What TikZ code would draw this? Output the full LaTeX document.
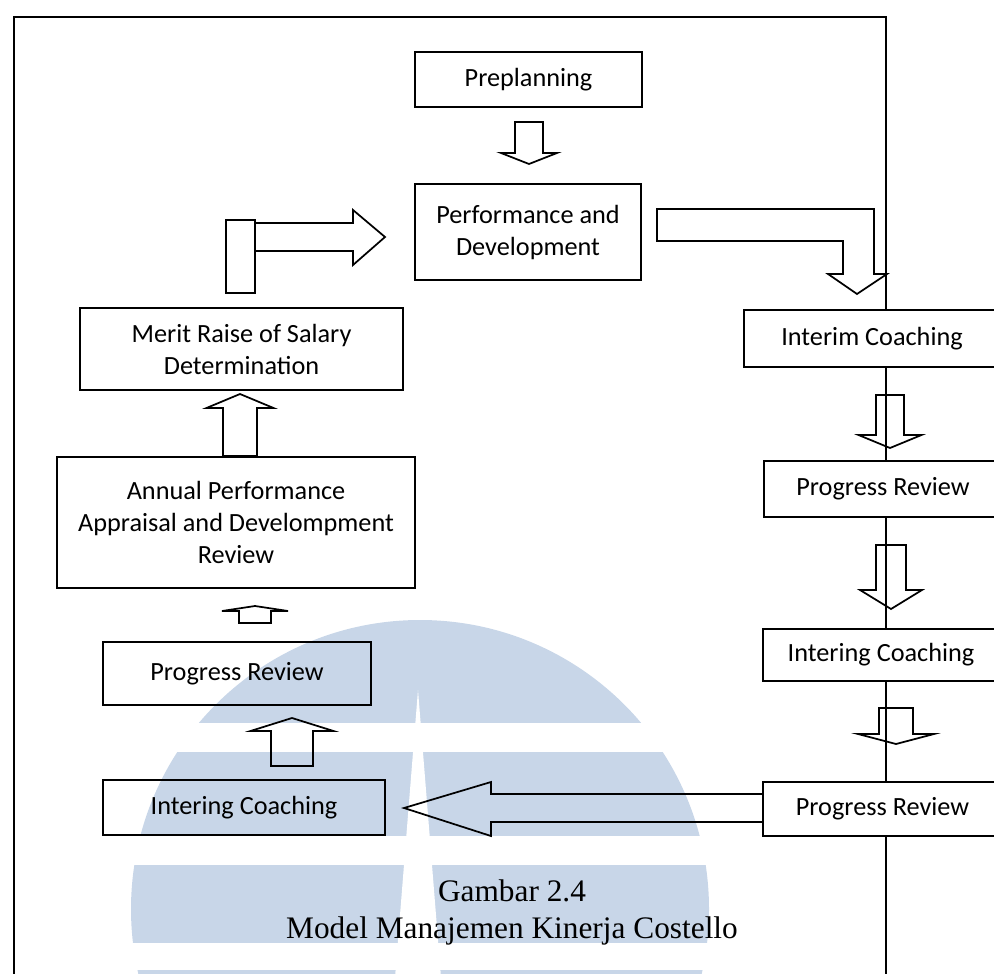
\documentclass[tikz,border=0pt]{standalone}
\usepackage{fontspec}
\setmainfont{Carlito}
\newfontfamily\capfont{Liberation Serif}
\usetikzlibrary{calc}
\definecolor{wmblue}{RGB}{200,214,232}

% vertical block arrow: #1 base centre, #2 shaft half width, #3 shaft length,
% #4 head half width, #5 head length, #6 direction (1 = down, -1 = up)
\newcommand\vfat[6]{%
  \draw[fat] ($(#1)+({-(#2)},0)$) -- ++(0,{(#6)*(#3)}) -- ++({(#2)-(#4)},0)
    -- ++(#4,{(#6)*(#5)}) -- ++(#4,{-1*(#6)*(#5)}) -- ++({(#2)-(#4)},0)
    -- ++(0,{-1*(#6)*(#3)}) -- cycle;}

\begin{document}
\begin{tikzpicture}[x=0.75pt,y=-0.75pt,
  box/.style={draw, line width=1.5pt, inner sep=0pt, align=center,
    font=\fontsize{19.7}{24}\selectfont},
  whitebox/.style={box, fill=white},
  fat/.style={draw, line width=1.3pt, line join=miter},
  frame/.style={line width=1.1pt}]
\useasboundingbox (0,0) rectangle (994,973);
\clip (0,0) rectangle (994,973);

% watermark logo
\begin{scope}
  \clip (420,909) circle (289);
  \fill[wmblue] (100,600) rectangle (750,723);
  \fill[wmblue] (100,752) rectangle (750,836);
  \fill[wmblue] (100,865) rectangle (750,943);
  \fill[wmblue] (100,970) rectangle (750,990);
  \fill[white] (418,690) -- (442,990) -- (394,990) -- cycle;
\end{scope}

% outer frame
\draw[frame] (14,990) -- (14,17) -- (886,17) -- (886,990);

% boxes
\node[box, minimum width=170.25pt, minimum height=41.25pt] (pre) at (528.5,79.5) {Preplanning};
\node[box, minimum width=169.5pt, minimum height=72pt] (perf) at (528,232) {Performance and\\Development};
\node[box, minimum width=242.25pt, minimum height=61.5pt] (merit) at (241.5,349) {Merit Raise of Salary\\Determination};
\node[box, minimum width=268.5pt, minimum height=98.25pt] (annual) at (236,522.5) {Annual Performance\\Appraisal and Develompment\\Review};
\node[box, minimum width=201pt, minimum height=47.25pt] (progL) at (237,673.5) {Progress Review};
\node[box, minimum width=211.5pt, minimum height=41.25pt] (interL) at (244,807.5) {Intering Coaching};
\node[whitebox, minimum width=192pt, minimum height=42.75pt] (interim) at (872,338.5) {Interim Coaching};
\node[whitebox, minimum width=178.5pt, minimum height=42pt] (progR1) at (883,489) {Progress Review};
\node[whitebox, minimum width=177pt, minimum height=39pt] (interR) at (881,655) {Intering Coaching};
\node[whitebox, minimum width=179.25pt, minimum height=40.5pt] (progR2) at (882.5,809) {Progress Review};

% block arrows between the boxes
\coordinate (a1) at ($(pre.south)+(0.5,14)$);
\vfat{a1}{14}{31}{28}{11}{1}
\coordinate (a2) at ($(annual.north)+(4,0)$);
\vfat{a2}{17}{48}{33.5}{14}{-1}
\coordinate (a3) at ($(progL.north)+(18,-18)$);
\vfat{a3}{16}{12}{33}{5}{-1}
\coordinate (a4) at ($(interL.north)+(48,-13)$);
\vfat{a4}{21}{35}{41.5}{13}{-1}
\coordinate (a5) at ($(interim.south)+(18,27)$);
\vfat{a5}{14}{40}{31.5}{13}{1}
\coordinate (a6) at ($(progR1.south)+(8,27)$);
\vfat{a6}{15}{45}{31}{19}{1}
\coordinate (a7) at ($(interR.south)+(15,26)$);
\vfat{a7}{17}{26}{38}{10}{1}

% Progress Review -> Intering Coaching (leftwards)
\coordinate (tip8) at ($(interL.east)+(18,0.5)$);
\draw[fat] ($(progR2.west)+(0,-15)$) -- (491,794) -- (491,782) -- (tip8)
  -- (491,836) -- (491,822) -- ($(progR2.west)+(0,13)$);

% Merit Raise -> Performance and Development (elbow)
\coordinate (tip9) at ($(perf.west)+(-29,5)$);
\draw[fat] ($(merit.north)+(-15.5,-14)$) rectangle ++(29,-73);
\draw[fat] (255,223) -- (353,223) -- (353,210) -- (tip9) -- (353,265) -- (353,251) -- (255,251);

% Performance and Development -> Interim Coaching (elbow)
\coordinate (tip10) at ($(interim.north)+(-15,-15)$);
\draw[fat] ($(perf.east)+(15,-23)$) -- (874,209) -- (874,274) -- (887,274) -- (tip10)
  -- (828,274) -- (843,274) -- (843,241) -- ($(perf.east)+(15,9)$) -- cycle;

% caption
\node[font=\capfont\fontsize{23.5}{27.75}\selectfont, align=center] (cap) at (512,912)
  {Gambar 2.4\\Model Manajemen Kinerja Costello};
\end{tikzpicture}
\end{document}
